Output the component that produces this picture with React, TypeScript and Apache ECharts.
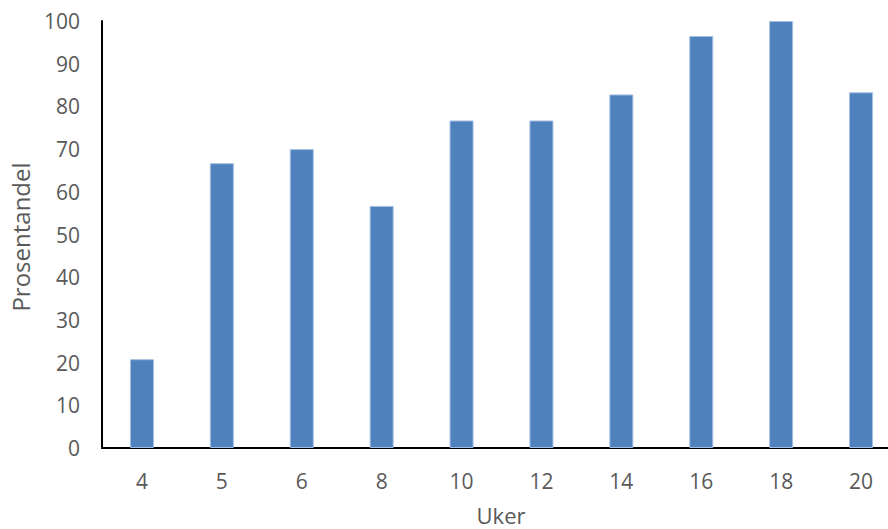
import React, { useEffect, useRef } from "react";
import * as echarts from "echarts";

const weeks = ["4", "5", "6", "8", "10", "12", "14", "16", "18", "20"];
const percentages = [20.8, 66.7, 70.0, 56.7, 76.7, 76.7, 82.8, 96.5, 100, 83.3];
const yTitle = "Prosentandel";
const xTitle = "Uker";

const FONT = "'Open Sans', sans-serif";
const TEXT = "#595959";

export default function App() {
  const ref = useRef<HTMLDivElement>(null);
  useEffect(() => {
    if (!ref.current) return;
    const chart = echarts.init(ref.current, undefined, { renderer: "svg" });
    chart.setOption({
      animation: false,
      backgroundColor: "#ffffff",
      grid: { left: 102, top: 21, width: 799, height: 427, containLabel: false },
      xAxis: {
        type: "category",
        data: weeks,
        axisLine: { show: true, lineStyle: { color: "#000000", width: 2 } },
        axisTick: { show: false },
        axisLabel: { color: TEXT, fontSize: 21, fontFamily: FONT, margin: 22 },
        splitLine: { show: false },
      },
      yAxis: {
        type: "value",
        min: 0,
        max: 100,
        interval: 10,
        axisLine: { show: true, lineStyle: { color: "#000000", width: 2 } },
        axisTick: { show: false },
        axisLabel: { color: TEXT, fontSize: 21, fontFamily: FONT, margin: 22 },
        splitLine: { show: false },
      },
      series: [
        {
          type: "bar",
          data: percentages,
          barWidth: 24,
          itemStyle: { color: "#4F81BD", borderColor: "#A3BEE0", borderWidth: 1 },
        },
      ],
      graphic: [
        {
          type: "text",
          x: 20,
          y: 237,
          rotation: Math.PI / 2,
          style: {
            text: yTitle,
            fill: TEXT,
            fontSize: 24,
            fontFamily: FONT,
            textAlign: "center",
            textVerticalAlign: "middle",
          },
        },
        {
          type: "text",
          x: 501,
          y: 515,
          style: {
            text: xTitle,
            fill: TEXT,
            fontSize: 22,
            fontFamily: FONT,
            textAlign: "center",
            textVerticalAlign: "middle",
          },
        },
      ],
    });
    return () => chart.dispose();
  }, []);
  return (
    <div style={{ position: "absolute", left: 0, top: 0, width: 888, height: 529, overflow: "hidden", background: "#fff" }}>
      <div ref={ref} style={{ position: "absolute", left: 0, top: 0, width: 920, height: 529 }} />
    </div>
  );
}
